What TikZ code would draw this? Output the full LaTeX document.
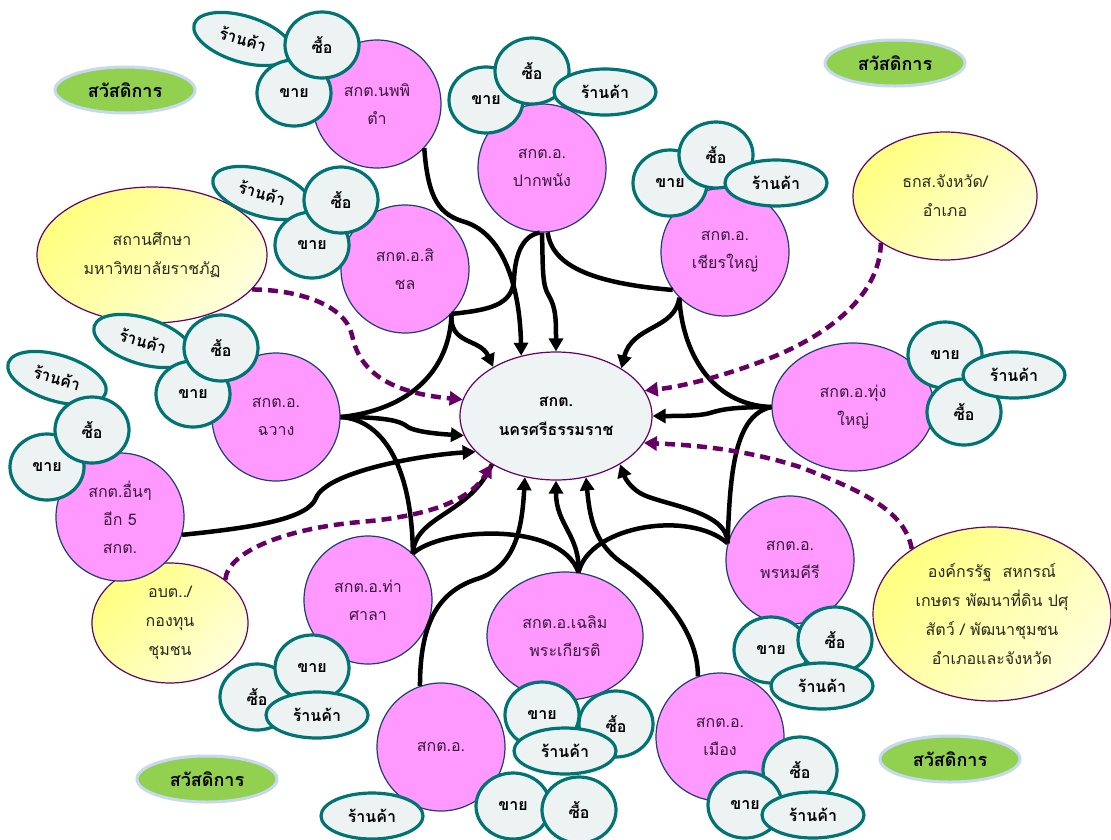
\documentclass[tikz,border=0pt]{standalone}
\usepackage{fontspec}
\setmainfont{Loma}[Script=Thai]
\usetikzlibrary{shapes.geometric,arrows.meta}

\definecolor{pinkfill}{HTML}{FF99FF}
\definecolor{pinkedge}{HTML}{1F3F6F}
\definecolor{pinktext}{HTML}{3A1A3A}
\definecolor{bubfill}{HTML}{EDF2F2}
\definecolor{bubedge}{HTML}{007373}
\definecolor{hubfill}{HTML}{EEF3F3}
\definecolor{plum}{HTML}{660066}
\definecolor{ylwA}{HTML}{FFFF80}
\definecolor{ylwB}{HTML}{FFFFDC}
\definecolor{ylwtext}{HTML}{2A2A1A}
\definecolor{grnfill}{HTML}{92D050}
\definecolor{grnedge}{HTML}{C6D9F1}

\tikzset{
  office/.style={ellipse, draw=pinkedge, line width=1.2pt, fill=pinkfill,
    inner sep=0pt, minimum width=128pt, minimum height=128pt,
    text=pinktext, align=center, font=\fontsize{16}{28}\selectfont},
  hub/.style={ellipse, draw=plum, line width=1.2pt, fill=hubfill, inner sep=0pt,
    minimum width=192pt, minimum height=128pt, align=center,
    font=\bfseries\fontsize{16}{29}\selectfont},
  partner/.style={ellipse, draw=plum, line width=1.2pt, top color=ylwA,
    bottom color=ylwB, shading angle=45, inner sep=0pt, align=center,
    text=ylwtext, font=\fontsize{16}{29}\selectfont},
  bubble/.style={ellipse, draw=bubedge, line width=3.2pt, fill=bubfill,
    inner sep=0pt, minimum width=74pt, minimum height=66pt,
    font=\bfseries\fontsize{16}{18}\selectfont},
  shopbub/.style={bubble, minimum width=102pt, minimum height=46pt},
  welfare/.style={ellipse, draw=grnedge, line width=3pt, fill=grnfill,
    inner sep=0pt, minimum width=140pt, minimum height=46pt,
    font=\bfseries\fontsize{18}{20}\selectfont},
  link/.style={line width=4.5pt, black},
  tolink/.style={link, -{Triangle[length=13pt,width=14pt]}},
  aid/.style={plum, line width=4.5pt, dash pattern=on 10pt off 6pt,
    -{Triangle[length=13pt,width=14pt]}},
}

\begin{document}
\begin{tikzpicture}[x=1pt,y=-1pt]
\useasboundingbox (0,0) rectangle (1111,839);
\fill[white] (0,0) rectangle (1111,839);

% welfare ovals
\node[welfare] (w1) at (125,90) {สวัสดิการ};
\node[welfare] (w2) at (895,63) {สวัสดิการ};
\node[welfare] (w3) at (207,779) {สวัสดิการ};
\node[welfare] (w4) at (950,759) {สวัสดิการ};

% partner organisations
\node[partner, minimum width=230pt, minimum height=136pt] (school) at (152,255) {สถานศึกษา\\มหาวิทยาลัยราชภัฏ};
\node[partner, minimum width=184pt, minimum height=128pt] (baac) at (945,196) {ธกส.จังหวัด/\\อำเภอ};
\node[partner, minimum width=156pt, minimum height=120pt] (obt) at (170,623) {อบต../\\กองทุน\\ชุมชน};
\node[partner, minimum width=238pt, minimum height=174pt] (org) at (992,614) {องค์กรรัฐ~~สหกรณ์\\เกษตร พัฒนาที่ดิน ปศุ\\สัตว์ / พัฒนาชุมชน\\อำเภอและจังหวัด};

% district offices
\node[office] (nop) at (377,104) {สกต.นพพิ\\ตำ};
\node[office] (pak) at (542,168) {สกต.อ.\\ปากพนัง};
\node[office] (chian) at (725,252) {สกต.อ.\\เชียรใหญ่};
\node[office] (sichon) at (405,269) {สกต.อ.สิ\\ชล};
\node[office] (chawang) at (276,417) {สกต.อ.\\ฉวาง};
\node[office] (other) at (120,517) {สกต.อื่นๆ\\อีก 5\\สกต.};
\node[office, minimum width=162pt] (thung) at (853,407) {สกต.อ.ทุ่ง\\ใหญ่};
\node[office] (phrom) at (790,560) {สกต.อ.\\พรหมคีรี};
\node[office] (mueang) at (720,737) {สกต.อ.\\เมือง};
\node[office, minimum width=156pt] (chaloem) at (565,636) {สกต.อ.เฉลิม\\พระเกียรติ};
\node[office] (thasala) at (368,600) {สกต.อ.ท่า\\ศาลา};
\node[office] (lower) at (441,747) {สกต.อ.};

% provincial hub
\node[hub] (c) at (556,416) {สกต.\\นครศรีธรรมราช};

% buy / sell / shop bubbles
\node[shopbub, rotate=-17] (r1) at (243,39) {ร้านค้า};
\node[bubble] (k1) at (294,93) {ขาย};
\node[bubble] (s1) at (322,45) {ซื้อ};

\node[bubble] (k2) at (486,100) {ขาย};
\node[bubble] (s2) at (532,71) {ซื้อ};
\node[shopbub] (r2) at (605,92) {ร้านค้า};

\node[bubble] (k3) at (670,183) {ขาย};
\node[bubble] (s3) at (716,155) {ซื้อ};
\node[shopbub] (r3) at (776,183) {ร้านค้า};

\node[shopbub, rotate=-17] (r4) at (262,193) {ร้านค้า};
\node[bubble] (k4) at (312,245) {ขาย};
\node[bubble] (s4) at (341,200) {ซื้อ};

\node[shopbub, rotate=-17] (r5) at (143,341) {ร้านค้า};
\node[bubble] (k5) at (193,394) {ขาย};
\node[bubble] (s5) at (221,348) {ซื้อ};

\node[shopbub, rotate=-17] (r6) at (57,378) {ร้านค้า};
\node[bubble] (k6) at (47,467) {ขาย};
\node[bubble] (s6) at (92,430) {ซื้อ};

\node[bubble] (k7) at (945,355) {ขาย};
\node[bubble] (s7) at (964,412) {ซื้อ};
\node[shopbub] (r7) at (1014,375) {ร้านค้า};

\node[bubble] (k8) at (771,650) {ขาย};
\node[bubble] (s8) at (835,640) {ซื้อ};
\node[shopbub] (r8) at (822,686) {ร้านค้า};

\node[bubble] (s9) at (800,770) {ซื้อ};
\node[bubble] (k9) at (745,805) {ขาย};
\node[shopbub] (r9) at (813,815) {ร้านค้า};

\node[bubble] (k10) at (542,715) {ขาย};
\node[bubble] (s10) at (616,724) {ซื้อ};
\node[shopbub] (r10) at (565,751) {ร้านค้า};

\node[bubble] (k11) at (513,806) {ขาย};
\node[bubble] (s11) at (579,810) {ซื้อ};
\node[shopbub] (r11) at (372,816) {ร้านค้า};

\node[bubble] (s12) at (257,697) {ซื้อ};
\node[bubble] (k12) at (312,668) {ขาย};
\node[shopbub] (r12) at (317,715) {ร้านค้า};

% links between neighbouring offices
\draw[link] (pak.-92) .. controls (522,236) and (515,255) .. (514,280)
  .. controls (512,305) and (490,310) .. (sichon.-44);
\draw[link] (pak.-85) .. controls (552,265) and (590,283) .. (chian.216);
\draw[link] (chian.225) .. controls (682,350) and (710,405) .. (thung.180);
\draw[link] (sichon.-44) .. controls (450,370) and (410,410) .. (chawang.0);
\draw[link] (chawang.0) .. controls (385,420) and (412,470) .. (thasala.46);
\draw[link] (thasala.46) .. controls (440,528) and (560,520) .. (chaloem.78);
\draw[link] (chaloem.78) .. controls (590,525) and (690,510) .. (phrom.165);
\draw[link] (phrom.165) .. controls (730,470) and (735,415) .. (thung.180);
\draw[link] (thasala.46) .. controls (415,515) and (470,515) .. (c.217);

% offices reporting to the hub
\draw[tolink] (nop.-43) .. controls (428,200) and (440,215) .. (465,222)
  .. controls (505,235) and (520,290) .. (c.120);
\draw[tolink] (pak.-90) .. controls (543,270) and (542,285) .. (549,296)
  .. controls (556,308) and (556,320) .. (c.90);
\draw[tolink] (chian.225) .. controls (675,330) and (632,325) .. (c.36);
\draw[tolink] (sichon.-44) .. controls (449,345) and (480,338) .. (c.142);
\draw[tolink] (chawang.0) .. controls (390,417) and (400,422) .. (405,425)
  .. controls (412,432) and (440,434) .. (c.192);
\draw[tolink] (other.-16) .. controls (260,527) and (308,518) .. (316,498)
  .. controls (326,472) and (420,455) .. (c.204);
\draw[tolink] (lower.109) .. controls (420,620) and (440,590) .. (480,578)
  .. controls (515,565) and (522,530) .. (c.243);
\draw[tolink] (chaloem.78) .. controls (580,535) and (556,525) .. (c.270);
\draw[tolink] (mueang.110) .. controls (698,630) and (660,590) .. (625,565)
  .. controls (595,545) and (590,520) .. (c.296);
\draw[tolink] (phrom.165) .. controls (728,510) and (660,505) .. (640,493)
  .. controls (630,487) and (625,478) .. (c.323);
\draw[tolink] (thung.180) .. controls (730,407) and (720,410) .. (710,413)
  .. controls (700,416) and (680,416) .. (c.0);

% support from partner organisations
\draw[aid] (school.-19) .. controls (300,290) and (345,305) .. (352,335)
  .. controls (358,365) and (380,392) .. (c.170);
\draw[aid] (baac.216) .. controls (880,300) and (820,340) .. (760,362)
  .. controls (720,377) and (680,387) .. (c.16);
\draw[aid] (org.141) .. controls (905,510) and (860,490) .. (800,467)
  .. controls (740,448) and (690,445) .. (c.343);
\draw[aid] (obt.38) .. controls (228,550) and (290,528) .. (360,522)
  .. controls (430,516) and (470,500) .. (c.217);
\end{tikzpicture}
\end{document}
